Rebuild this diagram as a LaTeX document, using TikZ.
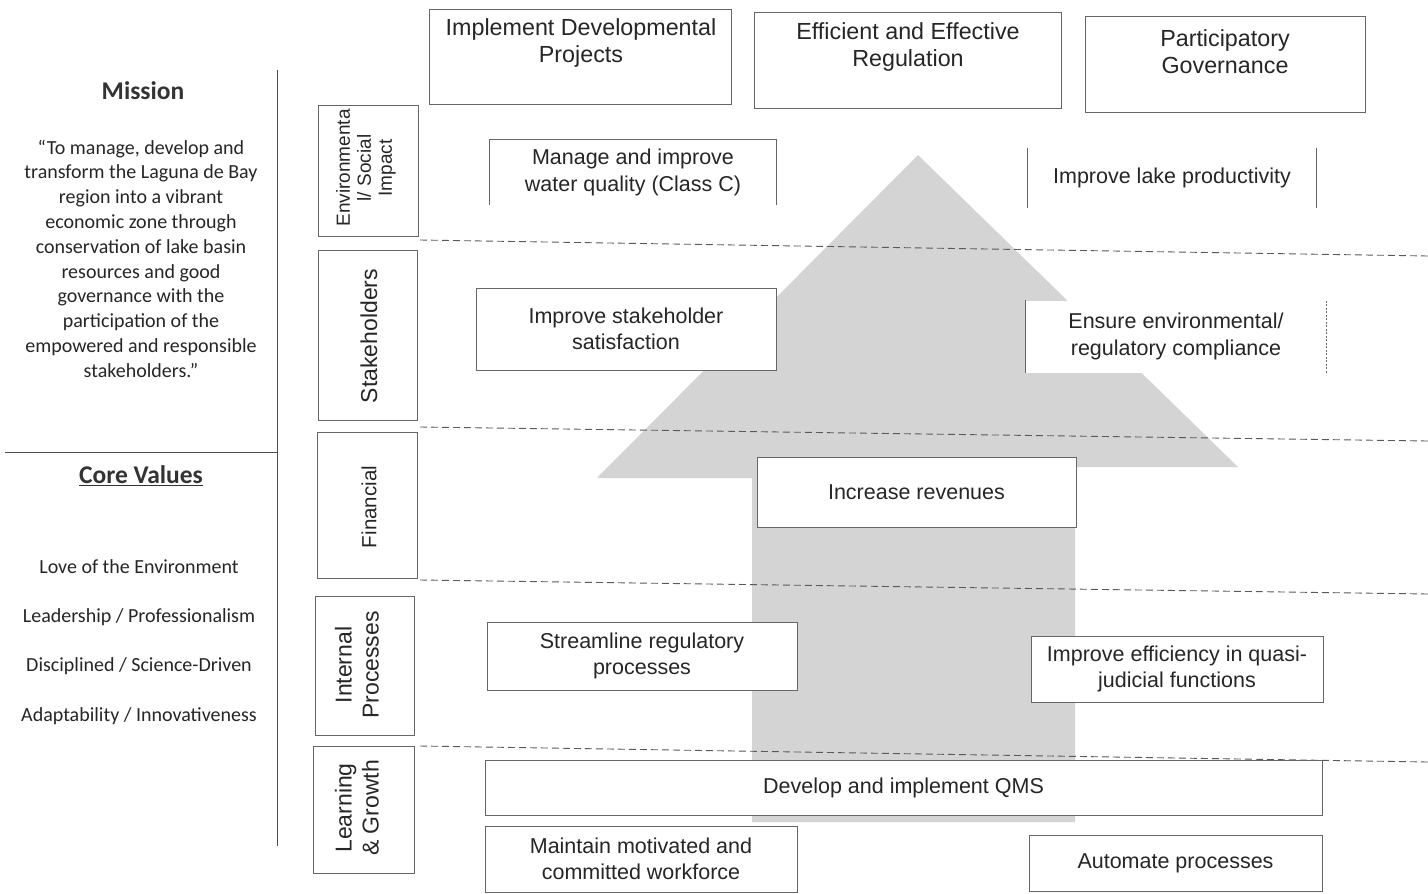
\documentclass[tikz,border=0pt]{standalone}
\usepackage{fontspec}
\setmainfont{Liberation Sans}
\newfontfamily\calfont{Carlito}
\usetikzlibrary{calc}
\begin{document}
\begin{tikzpicture}[x=1pt,y=-1pt,
  boxline/.style={draw=black!60, line width=0.9pt},
  objtext/.style={align=center, font=\fontsize{21.5}{26.5}\selectfont, text=black!85, inner sep=0pt},
  obj/.style={objtext, boxline, fill=white},
  toptext/.style={align=center, font=\fontsize{23.3}{27}\selectfont, text=black!85, inner sep=0pt},
  persp/.style={rotate=90, align=center, font=\fontsize{23}{27}\selectfont, text=black!85, inner sep=0pt},
  lefttext/.style={align=center, font=\calfont\fontsize{20}{24.8}\selectfont, text=black!85, inner sep=0pt},
  lefttitle/.style={font=\calfont\bfseries\fontsize{25.5}{28}\selectfont, text=black!80, inner sep=0pt},
  sep/.style={draw=black!65, line width=0.9pt, dash pattern=on 7pt off 4pt},
  rule/.style={draw=black!70, line width=0.9pt},
  arrowfill/.style={fill=black!17, draw=none}
]
\useasboundingbox[fill=white] (0,0) rectangle (1428,894);

% big arrow
\fill[arrowfill] (918,155) -- (1238,467) -- (1075,467) -- (1075,822)
  -- (752,822) -- (752,478) -- (597,478) -- cycle;

% left column rules
\coordinate (vtop) at (277,70);
\coordinate (vbot) at (277,846);
\coordinate (hl) at (5,452);
\coordinate (hr) at (277,452);
\draw[rule] (vtop) -- (vbot);
\draw[rule] (hl) -- (hr);

% Mission
\node[lefttitle] (mission) at (143,91) {Mission};
\node[lefttext] (missiontext) at (141,258.5) {“To manage, develop and\\transform the Laguna de Bay\\region into a vibrant\\economic zone through\\conservation of lake basin\\resources and good\\governance with the\\participation of the\\empowered and responsible\\stakeholders.”};

% Core values
\node[lefttitle] (core) at (141,476) {\underline{Core Values}};
\node[lefttext] (cv1) at (139,567) {Love of the Environment};
\node[lefttext] (cv2) at (139,617) {Leadership / Professionalism};
\node[lefttext] (cv3) at (139,666) {Disciplined / Science-Driven};
\node[lefttext] (cv4) at (139,716) {Adaptability / Innovativeness};

% Top boxes
\node[boxline, minimum width=302pt, minimum height=95pt, inner sep=0pt] (t1box) at (580,56.5) {};
\node[toptext] (t1) at (581,42.5) {Implement Developmental\\Projects};
\node[boxline, minimum width=307pt, minimum height=96pt, inner sep=0pt] (t2box) at (907.5,60) {};
\node[toptext] (t2) at (908,47) {Efficient and Effective\\Regulation};
\node[boxline, minimum width=280pt, minimum height=96pt, inner sep=0pt] (t3box) at (1225,64) {};
\node[toptext] (t3) at (1225,51.5) {Participatory\\Governance};

% Perspective boxes
\node[boxline, minimum width=100pt, minimum height=131pt, inner sep=0pt] (penvbox) at (368,170.5) {};
\node[persp, font=\fontsize{19}{21}\selectfont] (penv) at (366,168) {Environmenta\\l/ Social\\Impact};
\node[boxline, minimum width=99pt, minimum height=170pt, inner sep=0pt] (pstkbox) at (367.5,335) {};
\node[persp] (pstk) at (369,336) {Stakeholders};
\node[boxline, minimum width=100pt, minimum height=146pt, inner sep=0pt] (pfinbox) at (367,505) {};
\node[persp, font=\fontsize{20.5}{24}\selectfont] (pfin) at (369,507) {Financial};
\node[boxline, minimum width=99pt, minimum height=139pt, inner sep=0pt] (pintbox) at (364.5,665.5) {};
\node[persp] (pint) at (357,665) {Internal\\Processes};
\node[boxline, minimum width=101pt, minimum height=127pt, inner sep=0pt] (plgbox) at (363.5,809.5) {};
\node[persp] (plg) at (357,808) {Learning\\\& Growth};

% dashed separators
\coordinate (d1a) at (420,240); \coordinate (d1b) at (1428,256);
\coordinate (d2a) at (420,427); \coordinate (d2b) at (1428,441);
\coordinate (d3a) at (420,580); \coordinate (d3b) at (1428,594);
\coordinate (d4a) at (420,746); \coordinate (d4b) at (1428,762);
\draw[sep] (d1a) -- (d1b);
\draw[sep] (d2a) -- (d2b);
\draw[sep] (d3a) -- (d3b);
\draw[sep] (d4a) -- (d4b);

% Objectives
\node[objtext, fill=white, minimum width=286pt, minimum height=65pt] (o1) at (633,172.5) {Manage and improve\\water quality (Class C)};
\draw[boxline] (o1.south west) -- (o1.north west) -- (o1.north east) -- (o1.south east);

\node[objtext, minimum width=288pt, minimum height=59pt] (o2) at (1172,178) {Improve lake productivity};
\draw[boxline] (o2.south west) -- (o2.north west);
\draw[boxline] (o2.south east) -- (o2.north east);

\node[obj, minimum width=300pt, minimum height=82pt] (o3) at (626,329) {Improve stakeholder\\satisfaction};

\node[objtext, fill=white, minimum width=300pt, minimum height=72pt] (o4) at (1176,336.5) {Ensure environmental/\\regulatory compliance};
\draw[boxline] (o4.south west) -- (o4.north west);
\draw[boxline, dash pattern=on 2pt off 1.5pt] (o4.south east) -- (o4.north east);

\node[obj, minimum width=319pt, minimum height=70pt] (o5) at (916.5,492) {Increase revenues};

\node[obj, minimum width=310pt, minimum height=68pt] (o6) at (642,656) {Streamline regulatory\\processes};

\node[obj, minimum width=292pt, minimum height=66pt] (o7) at (1177,669) {Improve efficiency in quasi-\\judicial functions};

\node[obj, minimum width=837pt, minimum height=55pt] (o8) at (903.5,787.5) {Develop and implement QMS};

\node[obj, minimum width=312pt, minimum height=66pt] (o9) at (641,859) {Maintain motivated and\\committed workforce};

\node[obj, minimum width=293pt, minimum height=56pt] (o10) at (1175.5,863) {Automate processes};

\end{tikzpicture}
\end{document}
